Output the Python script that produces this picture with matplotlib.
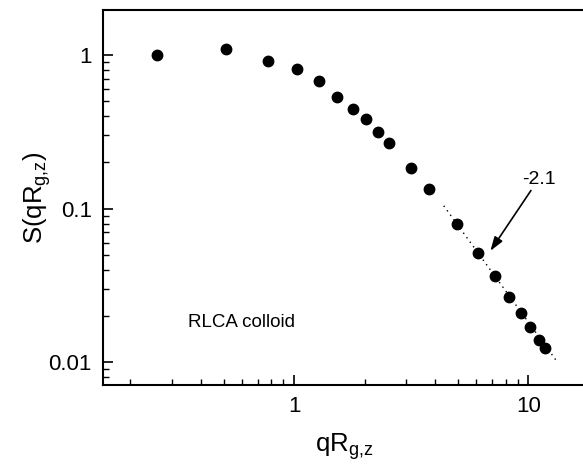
import matplotlib
matplotlib.use("Agg")
import matplotlib.pyplot as plt
import numpy as np

plt.rcParams['font.family'] = ['Liberation Sans', 'DejaVu Sans']
plt.rcParams['mathtext.fontset'] = 'custom'
plt.rcParams['mathtext.rm'] = 'Liberation Sans'
plt.rcParams['mathtext.it'] = 'Liberation Sans'

qR = [0.259, 0.512, 0.774, 1.027, 1.28, 1.53, 1.79, 2.02, 2.28, 2.55,
      3.14, 3.75, 4.94, 6.10, 7.18, 8.24, 9.27, 10.2, 11.07, 11.75]
S = [1.0, 1.09, 0.914, 0.814, 0.679, 0.537, 0.443, 0.382, 0.317, 0.266,
     0.184, 0.135, 0.0794, 0.0513, 0.0365, 0.0267, 0.021, 0.017, 0.0139, 0.0123]

fit_x = [4.35, 13.27]
fit_slope = -2.1
fit_amp = 2.29

W, H = 583, 470
fig = plt.figure(figsize=(W/100, H/100), dpi=100)
ax = fig.add_axes([103/W, (H-385)/H, (586-103)/W, (385-10)/H])
ax.set_xscale('log')
ax.set_yscale('log')
ax.set_xlim(0.153, 17.6)
ax.set_ylim(0.0071, 1.97)

fx = np.array(fit_x)
ax.plot(fx, fit_amp*fx**fit_slope, linestyle=(0, (1, 3)), color='black', lw=1.0)
ax.plot(qR, S, 'o', color='black', markersize=7.5)

ax.annotate('-2.1', xy=(6.88, 0.0531), xytext=(11.04, 0.137),
            fontsize=14, ha='center', va='bottom',
            arrowprops=dict(arrowstyle='-|>,head_length=0.6,head_width=0.2', color='black',
                            lw=1.2, shrinkA=0, shrinkB=0, mutation_scale=14))
ax.text(0.352, 0.018, 'RLCA colloid', fontsize=13.5, ha='left', va='center')

ax.set_xticks([1, 10])
ax.set_xticklabels(['1', '10'])
ax.set_yticks([0.01, 0.1, 1])
ax.set_yticklabels(['0.01', '0.1', '1'])
ax.tick_params(which='major', direction='in', length=7, width=1.2, labelsize=16, pad=8)
ax.tick_params(which='minor', direction='in', length=4, width=1.0)
ax.tick_params(axis='x', which='both', top=False)
ax.tick_params(axis='y', which='both', right=False)
for s in ax.spines.values():
    s.set_linewidth(1.5)

ax.set_xlabel(r'qR$_{\mathrm{g{,}z}}$', fontsize=18.5, labelpad=10)
ax.set_ylabel(r'S(qR$_{\mathrm{g{,}z}}$)', fontsize=18.5, labelpad=-3)

fig.savefig('out.png', dpi=100)
